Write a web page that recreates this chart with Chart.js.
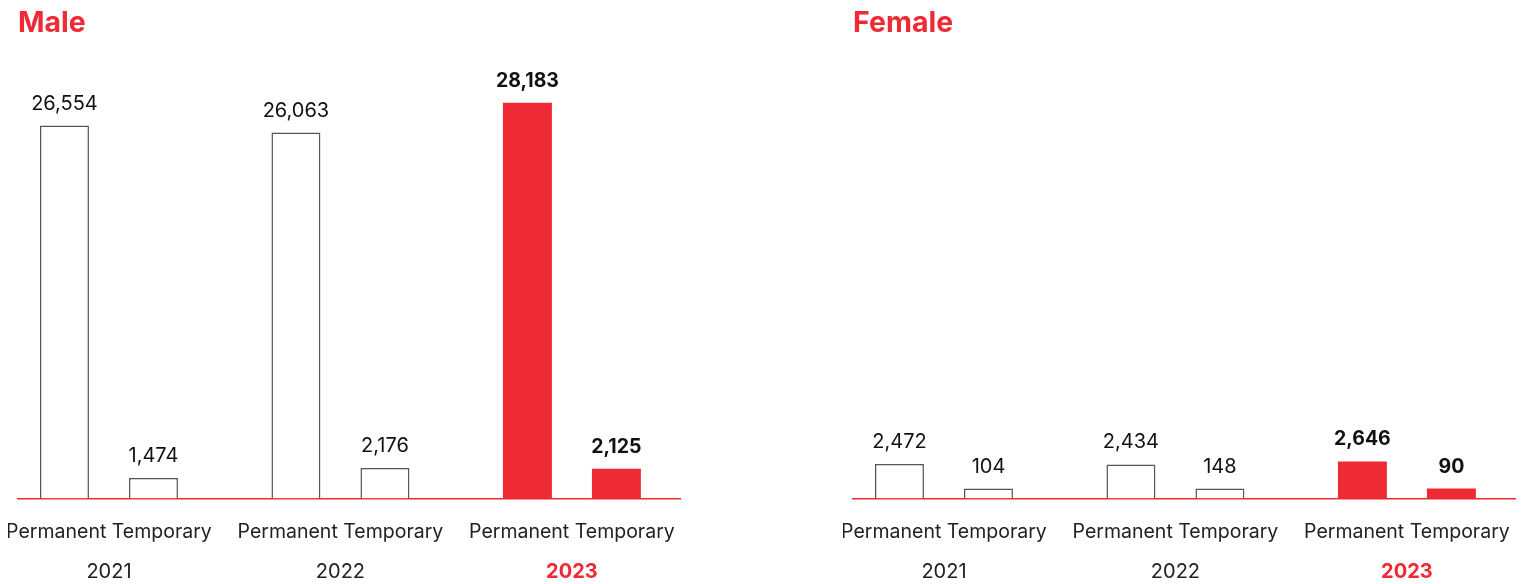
<!DOCTYPE html>
<html>
<head>
<meta charset="utf-8">
<title>Employees by contract type</title>
<script src="https://cdn.jsdelivr.net/npm/chart.js@4.4.1/dist/chart.umd.min.js"></script>
<style>
  body { margin: 0; background: #fff; width: 1530px; height: 584px; overflow: hidden; position: relative; }
  .panel { position: absolute; top: 0; }
</style>
</head>
<body>
<div class="panel" style="left:8px"><canvas id="maleChart" width="680" height="584"></canvas></div>
<div class="panel" style="left:843px"><canvas id="femaleChart" width="680" height="584"></canvas></div>
<script>
const years = [2021, 2022, 2023];
const categories = ['Permanent', 'Temporary'];
const malePermanent = [26554, 26063, 28183];
const maleTemporary = [1474, 2176, 2125];
const femalePermanent = [2472, 2434, 2646];
const femaleTemporary = [104, 148, 90];
const currentYear = 2023;

const RED = '#ee2a35';
const FONT = 'Inter, "Open Sans", sans-serif';

// numbers above the bars, bold for the current year
const valueLabels = {
    id: 'valueLabels',
    afterDatasetsDraw(chart) {
        const ctx = chart.ctx;
        ctx.save();
        ctx.textAlign = 'center';
        ctx.textBaseline = 'alphabetic';
        ctx.fillStyle = '#111';
        chart.data.datasets.forEach((ds, di) => {
            chart.getDatasetMeta(di).data.forEach((bar, i) => {
                const pt = ds.data[i];
                ctx.font = pt.x === currentYear ? 'bold 19.5px ' + FONT : '20px ' + FONT;
                ctx.fillText(pt.y.toLocaleString('en-US'), bar.x, bar.y - 16);
            });
        });
        ctx.restore();
    }
};

const isCurrent = c => c.raw && c.raw.x === currentYear;
const onlyYearTicks = s => { s.ticks = years.map(v => ({ value: v })); };
// drop the side padding Chart.js reserves for wide labels, and the extra
// padding under the labels, so the two axes stack tightly
const tightFit = s => {
    s.paddingLeft = 0;
    s.paddingRight = 0;
    s.height -= s.options.ticks.padding;
};

function makeDataset(label, values) {
    return {
        label: label,
        data: years.map((y, i) => ({ x: y, y: values[i] })),
        backgroundColor: c => isCurrent(c) ? RED : '#fff',
        borderColor: '#555',
        borderWidth: c => isCurrent(c) ? 0 : 1.5,
        minBarLength: 10,
        categoryPercentage: 0.769,
        barPercentage: 0.55
    };
}

function plotPanel(id, title, permanent, temporary) {
    const ctx = document.getElementById(id).getContext('2d');
    new Chart(ctx, {
        type: 'bar',
        data: {
            datasets: [
                makeDataset(categories[0], permanent),
                makeDataset(categories[1], temporary)
            ]
        },
        options: {
            responsive: false,
            animation: false,
            layout: { padding: { left: 10, right: 8, top: 0, bottom: 0 } },
            plugins: {
                legend: { display: false },
                tooltip: { enabled: false },
                title: {
                    display: true,
                    text: title,
                    align: 'start',
                    color: RED,
                    font: { family: FONT, size: 28.5, weight: 'bold' },
                    padding: { top: 6, bottom: 37 }
                }
            },
            scales: {
                x: {
                    type: 'linear',
                    offset: false,
                    min: 2020.607,
                    max: 2023.467,
                    afterBuildTicks: onlyYearTicks,
                    afterFit: tightFit,
                    grid: { display: false, drawTicks: false },
                    border: { display: true, color: RED, width: 1.5 },
                    ticks: {
                        autoSkip: false,
                        maxRotation: 0,
                        padding: 22,
                        color: '#222',
                        font: { family: FONT, size: 19.5 },
                        callback: () => categories.join(' ')
                    }
                },
                x2: {
                    type: 'linear',
                    position: 'bottom',
                    offset: false,
                    min: 2020.607,
                    max: 2023.467,
                    afterBuildTicks: onlyYearTicks,
                    afterFit: tightFit,
                    grid: { display: false, drawTicks: false },
                    border: { display: false },
                    ticks: {
                        autoSkip: false,
                        maxRotation: 0,
                        padding: 16,
                        color: c => c.tick && c.tick.value === currentYear ? RED : '#222',
                        font: c => ({
                            family: FONT,
                            size: 20,
                            weight: c.tick && c.tick.value === currentYear ? 'bold' : 'normal'
                        }),
                        callback: v => String(v)
                    }
                },
                y: { display: false, min: 0, max: 30000 }
            }
        },
        plugins: [valueLabels]
    });
}

plotPanel('maleChart', 'Male', malePermanent, maleTemporary);
plotPanel('femaleChart', 'Female', femalePermanent, femaleTemporary);
</script>
</body>
</html>
